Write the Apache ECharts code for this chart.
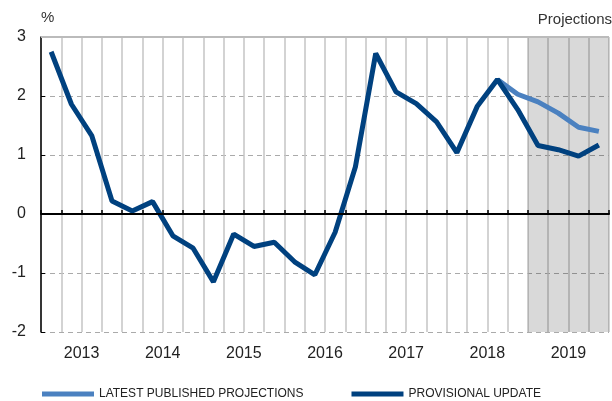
<!DOCTYPE html>
<html>
<head>
    <meta charset="utf-8">
    <title>Provisional update</title>
    <script src="https://cdn.jsdelivr.net/npm/echarts@6/dist/echarts.min.js"></script>
    <style>body{margin:0;}</style>
</head>
<body>
<div id="main" style="width: 612px;height:401px;"></div>
<script type="text/javascript">
    // quarters 2013 Q1 .. 2019 Q4
    var years = [2013, 2014, 2015, 2016, 2017, 2018, 2019];
    var quarters = [];
    years.forEach(function (y) { for (var q = 1; q <= 4; q++) quarters.push(y + ' Q' + q); });

    var provisional = [2.75, 1.86, 1.33, 0.22, 0.05, 0.21, -0.37, -0.58,
        -1.15, -0.34, -0.55, -0.48, -0.81, -1.03, -0.31, 0.80,
        2.72, 2.07, 1.87, 1.56, 1.04, 1.82, 2.28, 1.77,
        1.16, 1.09, 0.98, 1.17];
    var published = [null, null, null, null, null, null, null, null,
        null, null, null, null, null, null, null, null,
        null, null, null, null, null, null, 2.28, 2.03,
        1.90, 1.71, 1.47, 1.40];
    var projStart = '2019 Q1';
    var yTicks = [-2, -1, 0, 1, 2, 3];

    var n = quarters.length;
    var startIdx = quarters.indexOf(projStart);
    function pts(arr) {
        return arr.map(function (v, i) { return [i + 0.5, v]; });
    }

    var myChart = echarts.init(document.getElementById('main'));
    var font = 'Liberation Sans, Arial, sans-serif';
    option = {
        animation: false,
        textStyle: { fontFamily: font },
        grid: { left: 41, right: -2, top: 37, bottom: 69 },
        graphic: [{
            type: 'text', right: 0, top: 12,
            style: { text: 'Projections', fill: '#333', fontSize: 15, fontFamily: font }
        }],
        legend: {
            left: 37, top: 383,
            itemWidth: 52, itemHeight: 5, itemGap: 48,
            icon: 'rect',
            data: ['LATEST PUBLISHED PROJECTIONS', 'PROVISIONAL UPDATE'],
            textStyle: { color: '#222', fontSize: 12, fontFamily: font }
        },
        xAxis: {
            type: 'value', min: 0, max: n, interval: 1,
            axisLine: { lineStyle: { color: '#000', width: 2 } },
            axisTick: { inside: true, length: 4, lineStyle: { color: '#000', width: 1.5 } },
            axisLabel: {
                margin: 14, fontSize: 16, color: '#222', showMinLabel: true, showMaxLabel: true,
                formatter: function (v) { return v % 4 === 2 ? String(years[(v - 2) / 4]) : ''; }
            },
            splitLine: { show: true, lineStyle: { color: '#c4c4c4', width: 1.5 } }
        },
        yAxis: {
            type: 'value', min: yTicks[0], max: yTicks[yTicks.length - 1], interval: 1,
            name: '%', nameLocation: 'end', nameGap: 12,
            nameTextStyle: { align: 'left', color: '#333', fontSize: 15 },
            axisLine: { show: true, lineStyle: { color: '#000', width: 1.5 } },
            axisTick: { show: true, inside: true, length: 4, lineStyle: { color: '#000' } },
            axisLabel: { margin: 15, fontSize: 16, color: '#222' },
            splitLine: { show: true, lineStyle: { color: '#aaa', type: [5, 4], width: 1 } }
        },
        series: [
            {
                name: 'LATEST PUBLISHED PROJECTIONS',
                type: 'line', symbol: 'none',
                color: '#4b81c0',
                lineStyle: { width: 5, color: '#4b81c0' },
                data: pts(published),
                markArea: {
                    silent: true,
                    itemStyle: { color: 'rgba(0,0,0,0.15)' },
                    data: [[{ xAxis: startIdx }, { xAxis: n }]]
                },
                markLine: {
                    silent: true, symbol: 'none', label: { show: false },
                    lineStyle: { color: '#bbb', type: 'solid', width: 2 },
                    data: [{ yAxis: yTicks[yTicks.length - 1] }]
                }
            },
            {
                name: 'PROVISIONAL UPDATE',
                type: 'line', symbol: 'none',
                color: '#00417f',
                lineStyle: { width: 5, color: '#00417f' },
                data: pts(provisional),
                z: 3,
                markLine: {
                    silent: true, symbol: 'none', label: { show: false },
                    lineStyle: { color: '#000', type: 'solid', width: 2 },
                    data: [[{ coord: [0.5, 0] }, { coord: [n - 0.5, 0] }]]
                }
            }
        ]
    };
    myChart.setOption(option);
</script>
</body>
</html>
